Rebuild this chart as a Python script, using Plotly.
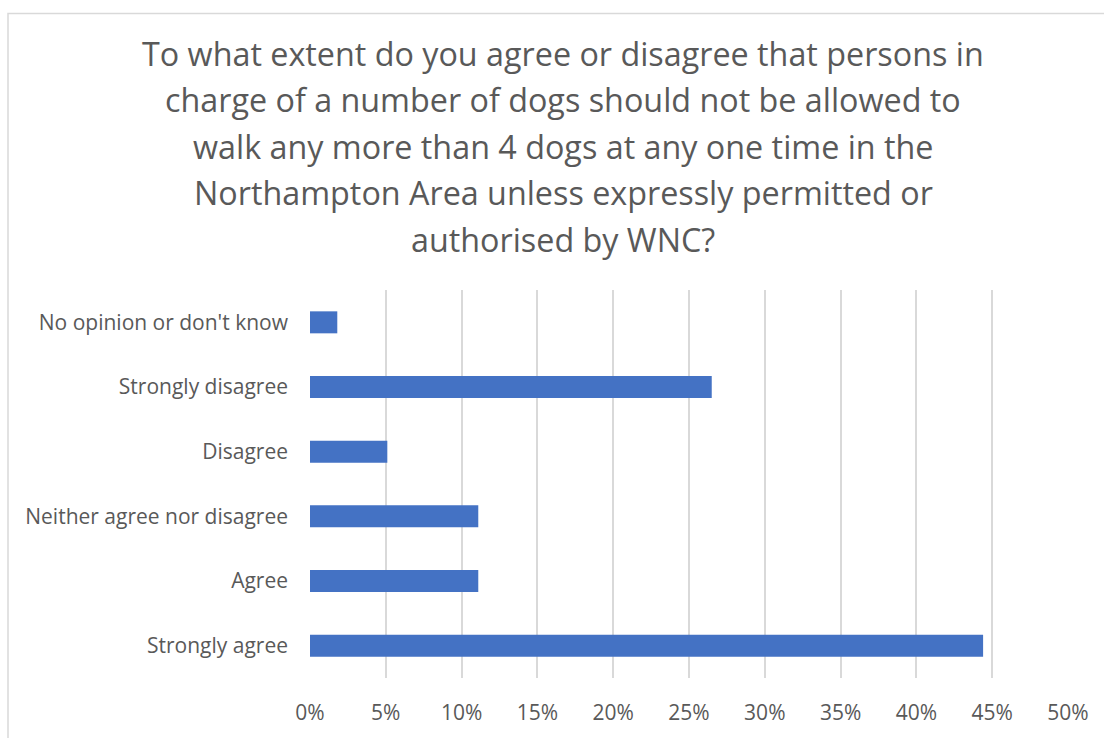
import plotly.graph_objects as go

categories = ["Strongly agree", "Agree", "Neither agree nor disagree", "Disagree",
              "Strongly disagree", "No opinion or don't know"]
values = [44.4, 11.1, 11.1, 5.1, 26.5, 1.8]
tick_vals = [0, 5, 10, 15, 20, 25, 30, 35, 40, 45, 50]
tick_text = [f"{v}%" for v in tick_vals]
title_lines = [
    "To what extent do you agree or disagree that persons in",
    "charge of a number of dogs should not be allowed to",
    "walk any more than 4 dogs at any one time in the",
    "Northampton Area unless expressly permitted or",
    "authorised by WNC?",
]

W, H = 1104, 738
L, R, T, B = 310, 36, 290, 55
ph = H - T - B
pw = W - L - R
FONT = "Open Sans, Lato, sans-serif"

fig = go.Figure(go.Bar(
    x=values, y=categories, orientation="h",
    marker=dict(color="#4472C4", line=dict(width=0)),
    width=0.34,
))

fig.update_layout(
    width=W, height=H,
    margin=dict(l=L, r=R, t=T, b=B),
    paper_bgcolor="white", plot_bgcolor="white",
    font=dict(family=FONT, color="#595959", size=21),
    showlegend=False,
    xaxis=dict(range=[0, 50], tickvals=tick_vals, ticktext=tick_text,
               showgrid=True, gridcolor="#D9D9D9", gridwidth=2,
               zeroline=False, showline=False, ticks="",
               ticklabelstandoff=20,
               tickfont=dict(size=21, color="#595959", family=FONT)),
    yaxis=dict(showgrid=False, zeroline=False, showline=False, ticks="",
               ticklabelstandoff=21,
               tickfont=dict(size=21, color="#595959", family=FONT),
               range=[-0.5, 5.5]),
)

# title lines
y0 = 50
for i, line in enumerate(title_lines):
    fig.add_annotation(
        text=line, xref="paper", yref="paper",
        x=(563 - L) / pw, y=(H - B - (y0 + 47 * i)) / ph,
        xanchor="center", yanchor="middle", showarrow=False,
        font=dict(size=32.3, color="#595959", family=FONT),
    )

# chart border (left and top edges visible; right/bottom off-canvas)
fig.add_shape(type="rect", xref="paper", yref="paper",
              x0=(8 - L) / pw, x1=(1110 - L) / pw,
              y0=(H - B - 745) / ph, y1=(H - B - 10) / ph,
              line=dict(color="#D9D9D9", width=1.5), fillcolor="rgba(0,0,0,0)", layer="below")

fig.write_html("out.html", config={"displayModeBar": False},
               post_script="document.body.style.margin='0';document.body.style.overflow='hidden';")
